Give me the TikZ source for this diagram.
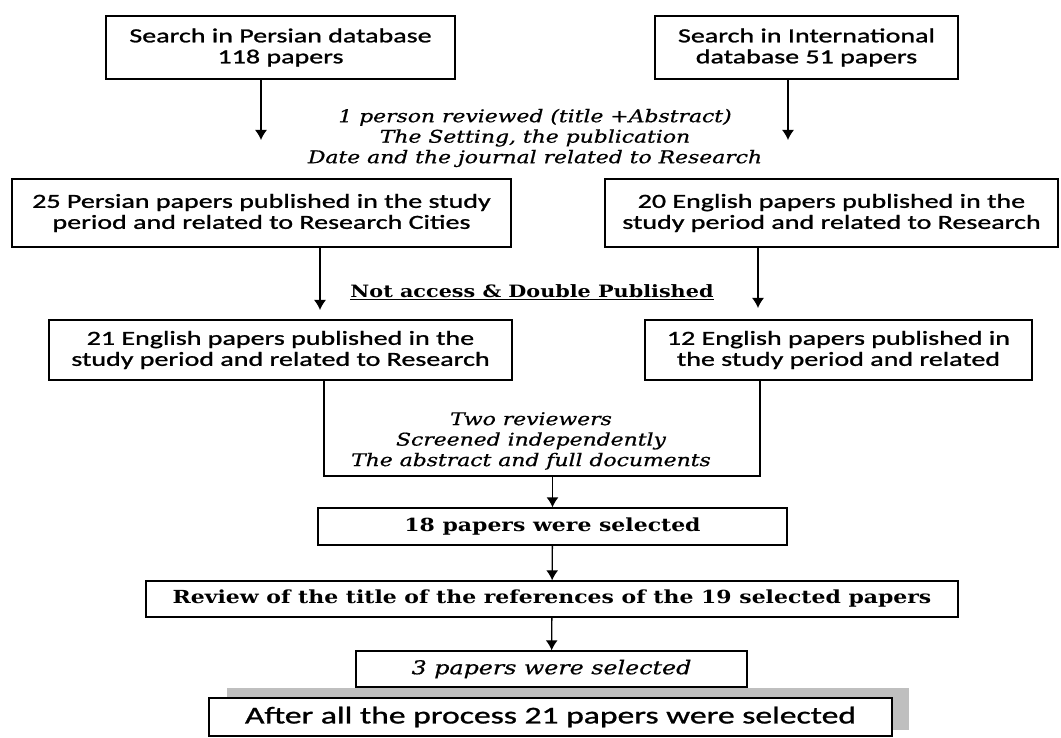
\documentclass[tikz,border=0pt]{standalone}
\usepackage{fontspec}
\setmainfont{Carlito}
\newfontfamily\boxfont[FakeStretch=1.40,FakeBold=1.2]{Carlito}
\newfontfamily\notefont[FakeStretch=1.25,FakeBold=0.7]{DejaVu Serif}
\newfontfamily\headfont[FakeStretch=1.22]{DejaVu Serif}
\usetikzlibrary{arrows.meta}
\tikzstyle{block} = [draw, fill=white, line width=1.3pt, rectangle, inner sep=0pt, align=center, font=\boxfont\fontsize{20}{21}\selectfont]
\tikzstyle{serifblock} = [block, font=\headfont\bfseries\fontsize{18}{21}\selectfont]
\tikzstyle{note} = [align=center, font=\notefont\itshape\fontsize{17.5}{20.5}\selectfont]
\tikzstyle{link} = [line width=1.3pt, black]
\tikzstyle{flow} = [link, ->]

\begin{document}
\begin{tikzpicture}[x=1pt, y=-1pt, >={Latex[width=12pt,length=10pt]}]
    \useasboundingbox (0,0) rectangle (1061,738);

    % Place the blocks
    \node [block, minimum width=349pt, minimum height=63pt] (persian) at (280.5,47.5) {Search in Persian database\\118 papers};
    \node [block, minimum width=303pt, minimum height=63pt] (intl) at (806.5,47.5) {Search in International\\database 51 papers};
    \node [note] (screenone) at (535,138) {1 person reviewed (title +Abstract)\\The Setting, the publication\\Date and the journal related to Research};
    \node [block, minimum width=499pt, minimum height=68pt] (persian25) at (261.5,213) {25 Persian papers published in the study\\period and related to Research Cities};
    \node [block, minimum width=453pt, minimum height=68pt] (english20) at (831.5,213) {20 English papers published in the\\study period and related to Research};
    \node [note, font=\headfont\bfseries\fontsize{17}{20}\selectfont] (excluded) at (532,292) {\underline{Not access \& Double Published}};
    \node [block, minimum width=463pt, minimum height=60pt] (english21) at (280.5,350) {21 English papers published in the\\study period and related to Research};
    \node [block, minimum width=387pt, minimum height=60pt] (english12) at (838.5,350) {12 English papers published in\\the study period and related};
    \node [note] (screentwo) at (531,441) {Two reviewers\\Screened independently\\The abstract and full documents};
    \node [serifblock, minimum width=469pt, minimum height=37pt] (selected18) at (552.5,526.5) {18 papers were selected};
    \node [serifblock, minimum width=812pt, minimum height=36pt] (refs) at (552,599) {Review of the title of the references of the 19 selected papers};
    \node [block, font=\notefont\itshape\fontsize{19}{21}\selectfont, minimum width=391pt, minimum height=36pt] (selected3) at (551.5,669) {3 papers were selected};
    \fill [black!25] (227,688) rectangle (909,730);
    \node [block, font=\boxfont\fontsize{24}{25}\selectfont, minimum width=683pt, minimum height=38pt] (final) at (550.5,717) {After all the process 21 papers were selected};

    % Free ends and the joint
    \coordinate (tipa) at (261,140);
    \coordinate (tipb) at (788,140);
    \coordinate (tipc) at (320,310);
    \coordinate (tipd) at (758,308);
    \coordinate (joinl) at (324,476);
    \coordinate (joinr) at (760,476);

    % Connect the nodes
    \draw [flow] (persian.south -| tipa) -- (tipa);
    \draw [flow] (intl.south -| tipb) -- (tipb);
    \draw [flow] (persian25.south -| tipc) -- (tipc);
    \draw [flow] (english20.south -| tipd) -- (tipd);
    \draw [link] (english21.south -| joinl) -- (joinl) -- (joinr) -- (english12.south -| joinr);
    \draw [flow] (joinl -| selected18) -- (selected18);
    \draw [flow] (selected18) -- (refs);
    \draw [flow] (refs) -- (selected3);
\end{tikzpicture}
\end{document}
